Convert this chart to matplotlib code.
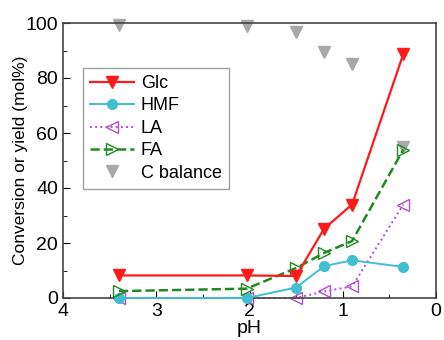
import matplotlib
matplotlib.use("Agg")
import matplotlib.pyplot as plt
from matplotlib.ticker import MultipleLocator

plt.rcParams["font.family"] = ["Liberation Sans", "DejaVu Sans"]

ph = [3.4, 2.03, 1.5, 1.2, 0.9, 0.35]
glc = [8.2, 8.2, 8.0, 25.2, 34.0, 88.8]
hmf = [0.0, 0.0, 3.8, 11.6, 13.7, 11.3]
la = [0.0, 0.0, 0.0, 2.4, 4.2, 34.0]
fa = [2.5, 3.4, 10.9, 16.4, 20.7, 54.0]
c_balance = [99.2, 98.8, 96.7, 89.4, 85.2, 55.0]

fig = plt.figure(figsize=(4.44, 3.4), dpi=100)
ax = fig.add_axes([63 / 444, 1 - 298 / 340, 373 / 444, 275 / 340])

ax.plot(ph, c_balance, "v", color="#a8a8a8", ms=9, ls="none", label="C balance", zorder=1, clip_on=False)
ax.plot(ph, glc, "-v", color="#ff1a1a", lw=1.6, ms=9, label="Glc", zorder=5, clip_on=False)
ax.plot(ph, hmf, "-o", color="#3fbfcf", lw=1.4, ms=7, label="HMF", zorder=3, clip_on=False)
ax.plot(ph, la, ":<", color="#b050d0", lw=1.4, ms=8, mfc="none", label="LA", zorder=2, clip_on=False)
ax.plot(ph, fa, "-->", color="#1f8a1f", lw=1.8, ms=8, mfc="none", label="FA", zorder=4, clip_on=False)

ax.set_xlim(4, 0)
ax.set_ylim(0, 100)
ax.xaxis.set_major_locator(MultipleLocator(1))
ax.xaxis.set_minor_locator(MultipleLocator(0.5))
ax.yaxis.set_major_locator(MultipleLocator(20))
ax.yaxis.set_minor_locator(MultipleLocator(10))
ax.tick_params(which="both", direction="in", labelsize=14)
ax.tick_params(which="major", length=5)
ax.tick_params(which="minor", length=3)
for s in ax.spines.values():
    s.set_color("#444444")
    s.set_linewidth(1.2)

ax.set_xlabel("pH", fontsize=14, labelpad=0)
ax.set_ylabel("Conversion or yield (mol%)", fontsize=12.5)
ax.yaxis.set_label_coords(-0.095, 0.5)

h, l = ax.get_legend_handles_labels()
order = [1, 2, 3, 4, 0]
ax.legend([h[i] for i in order], [l[i] for i in order], loc="upper left",
          bbox_to_anchor=(0.03, 0.87), fontsize=13, frameon=True, fancybox=False,
          edgecolor="#888888", handlelength=2.4, handletextpad=0.4,
          labelspacing=0.3, borderpad=0.4)

fig.savefig("out.png", dpi=100)
